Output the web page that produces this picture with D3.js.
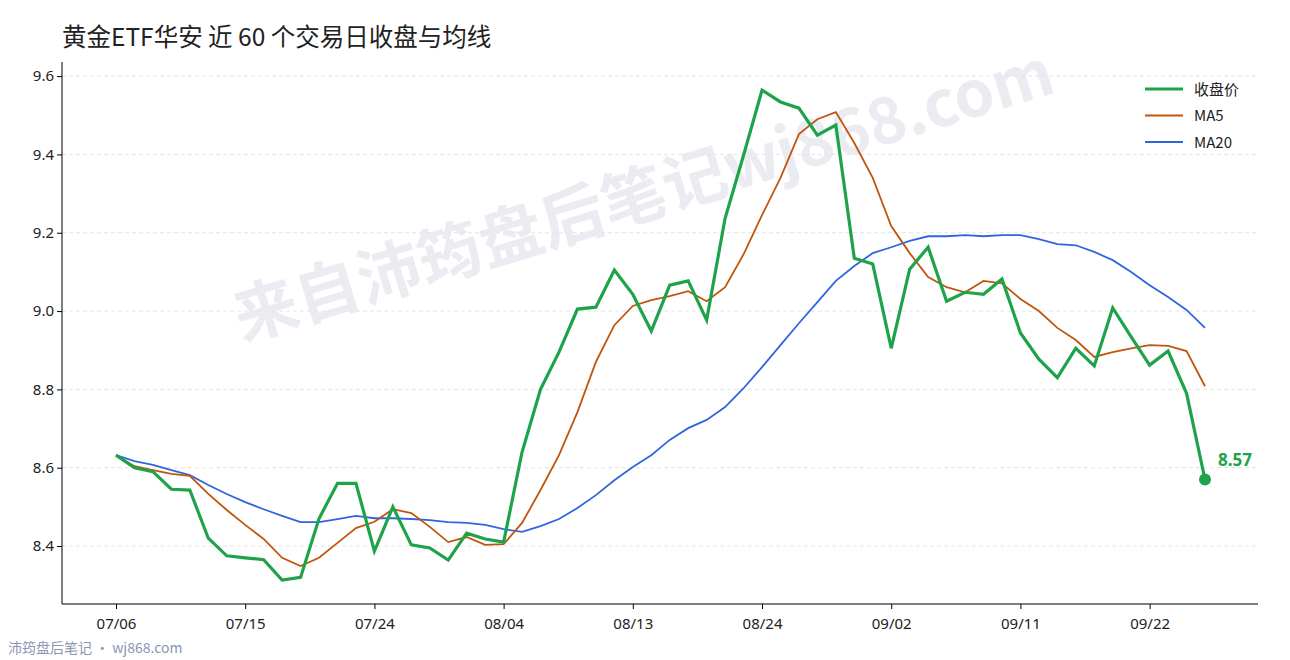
<!DOCTYPE html>
<html><head><meta charset="utf-8">
<script src="https://cdn.jsdelivr.net/npm/d3@7"></script>
<style>body{margin:0;background:#fff}svg{font-family:"Noto Sans CJK SC","Noto Sans",sans-serif}</style>
</head><body><svg id="c" width="1290" height="660"></svg>
<script>
const closeVals=[8.632,8.60,8.59,8.545,8.543,8.42,8.375,8.37,8.365,8.313,8.32,8.47,8.56,8.56,8.387,8.50,8.403,8.395,8.364,8.433,8.418,8.41,8.64,8.80,8.895,9.005,9.01,9.105,9.043,8.949,9.066,9.077,8.977,9.237,9.398,9.564,9.534,9.518,9.449,9.475,9.135,9.12,8.905,9.107,9.163,9.025,9.048,9.043,9.082,8.944,8.877,8.83,8.905,8.86,9.008,8.934,8.862,8.898,8.79,8.57];
const ma5Vals=[8.632,8.604,8.594,8.584,8.579,8.533,8.492,8.454,8.418,8.37,8.349,8.37,8.408,8.446,8.462,8.494,8.484,8.449,8.41,8.423,8.403,8.405,8.459,8.543,8.632,8.742,8.87,8.964,9.013,9.028,9.038,9.051,9.025,9.061,9.145,9.245,9.34,9.452,9.49,9.508,9.429,9.34,9.217,9.148,9.087,9.061,9.048,9.077,9.071,9.031,9.0,8.957,8.926,8.883,8.895,8.905,8.913,8.911,8.898,8.808];
const ma20Vals=[8.632,8.617,8.607,8.594,8.581,8.556,8.533,8.512,8.494,8.477,8.461,8.461,8.469,8.477,8.471,8.471,8.469,8.466,8.461,8.459,8.454,8.443,8.436,8.451,8.469,8.497,8.53,8.568,8.602,8.632,8.671,8.701,8.722,8.755,8.803,8.857,8.913,8.969,9.023,9.077,9.115,9.148,9.163,9.179,9.191,9.191,9.194,9.191,9.194,9.194,9.184,9.171,9.168,9.151,9.13,9.1,9.066,9.036,9.003,8.957];
const tickIdx=[0,7,14,21,28,35,42,49,56];
const tickLabels=["07/06","07/15","07/24","08/04","08/13","08/24","09/02","09/11","09/22"];
const yTicks=[8.4,8.6,8.8,9.0,9.2,9.4,9.6];

const svg=d3.select("#c");
const x=d3.scaleLinear().domain([0,59]).range([116,1205]);
const y=d3.scaleLinear().domain([8.252,9.636]).range([604,62]);
const L=62,R=1258,B=604,T=62;

svg.append("text").attr("x",62).attr("y",46).attr("font-size",24.5).attr("fill","#222").text("黄金ETF华安 近 60 个交易日收盘与均线");

svg.append("g").selectAll("line").data(yTicks).join("line")
 .attr("x1",L).attr("x2",R).attr("y1",d=>y(d)).attr("y2",d=>y(d))
 .attr("stroke","#ddd").attr("stroke-dasharray","4,3").attr("stroke-width",0.8);

svg.append("text").attr("transform","translate(645,200) rotate(-17)").attr("text-anchor","middle")
 .attr("dominant-baseline","middle").attr("font-size",64).attr("font-weight","bold").attr("fill","#e6e8ef").attr("opacity",0.8)
 .text("来自沛筠盘后笔记wj868.com");

const ya=svg.append("g").attr("transform",`translate(${L},0)`).call(d3.axisLeft(y).tickValues(yTicks).tickFormat(d3.format(".1f")).tickSize(5).tickSizeOuter(0));
const xa=svg.append("g").attr("transform",`translate(0,${B})`).call(d3.axisBottom(x).tickValues(tickIdx).tickFormat((d,i)=>tickLabels[i]).tickSize(5).tickSizeOuter(0));
[ya,xa].forEach(a=>{a.selectAll("text").attr("font-size",15).attr("fill","#222").attr("font-family","Noto Sans");a.select(".domain").remove();});
xa.selectAll("text").attr("dy","1.1em");
svg.append("line").attr("x1",L).attr("x2",L).attr("y1",T).attr("y2",B).attr("stroke","#000");
svg.append("line").attr("x1",L).attr("x2",R).attr("y1",B).attr("y2",B).attr("stroke","#000");

const line=d3.line().x((d,i)=>x(i)).y(d=>y(d));
svg.append("path").datum(ma20Vals).attr("d",line).attr("fill","none").attr("stroke","#2f66e0").attr("stroke-width",1.8);
svg.append("path").datum(ma5Vals).attr("d",line).attr("fill","none").attr("stroke","#c0560e").attr("stroke-width",1.8);
svg.append("path").datum(closeVals).attr("d",line).attr("fill","none").attr("stroke","#1fa34a").attr("stroke-width",3.2);
const li=closeVals.length-1;
svg.append("circle").attr("cx",x(li)).attr("cy",y(closeVals[li])).attr("r",6).attr("fill","#1fa34a");
svg.append("text").attr("x",x(li)+13).attr("y",y(closeVals[li])-13).attr("font-size",17).attr("font-weight","bold").attr("fill","#1fa34a").attr("font-family","Noto Sans").text(closeVals[li].toFixed(2));

const leg=[["收盘价","#1fa34a",3.2],["MA5","#c0560e",1.8],["MA20","#2f66e0",1.8]];
leg.forEach((l,i)=>{const yy=89+i*26.5;
 svg.append("line").attr("x1",1145).attr("x2",1183).attr("y1",yy).attr("y2",yy).attr("stroke",l[1]).attr("stroke-width",l[2]);
 svg.append("text").attr("x",1194).attr("y",yy+5.5).attr("font-size",15).attr("fill","#222").text(l[0]);});

svg.append("text").attr("x",8).attr("y",653).attr("font-size",14).attr("fill","#8a96b0").text("沛筠盘后笔记 · wj868.com");
</script></body></html>
